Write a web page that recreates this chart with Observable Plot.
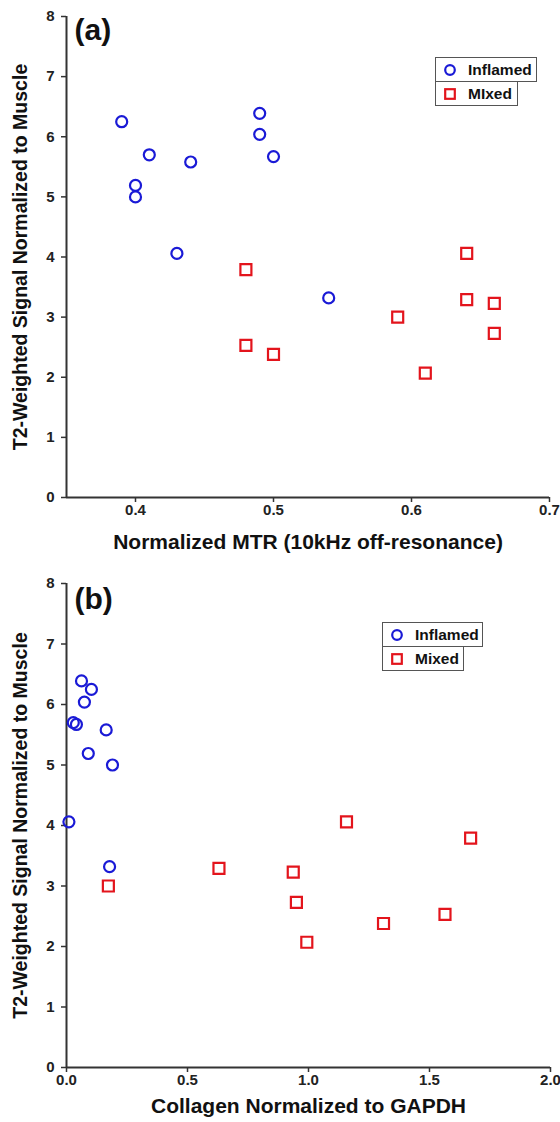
<!DOCTYPE html>
<html>
<head>
<meta charset="utf-8">
<script src="https://cdn.jsdelivr.net/npm/d3@7"></script>
<script src="https://cdn.jsdelivr.net/npm/@observablehq/plot@0.6"></script>
<style>
  body { margin: 0; background: #fff; font-family: "Liberation Sans", Arial, sans-serif; }
  #wrap { position: relative; width: 560px; height: 1122px; }
  .leg { position: absolute; box-sizing: border-box; border: 1px solid #555; background: #fff;
         font: bold 15.5px "Liberation Sans", Arial, sans-serif; color: #111; display: flex; align-items: center; }
  .leg svg { margin-left: 8px; margin-right: 12px; }
</style>
</head>
<body>
<div id="wrap"></div>
<script>
// Shared T2 values
const t2Inflamed = [6.25, 5.70, 5.19, 5.00, 5.58, 6.39, 6.04, 5.67, 4.06, 3.32];
const t2Mixed = [3.79, 2.53, 2.38, 3.00, 2.07, 3.29, 3.23, 2.73, 4.06];
// Panel (a): normalized MTR
const mtrInflamed = [0.39, 0.41, 0.40, 0.40, 0.44, 0.49, 0.49, 0.50, 0.43, 0.54];
const mtrMixed = [0.48, 0.48, 0.50, 0.59, 0.61, 0.64, 0.66, 0.66, 0.64];
// Panel (b): collagen normalized to GAPDH
const colInflamed = [0.103, 0.028, 0.09, 0.19, 0.164, 0.062, 0.074, 0.041, 0.01, 0.178];
const colMixed = [1.67, 1.564, 1.31, 0.173, 0.993, 0.63, 0.937, 0.95, 1.157];

const yTicks = [0, 1, 2, 3, 4, 5, 6, 7, 8];
const xTicksA = [0.4, 0.5, 0.6, 0.7];
const xTicksB = [0.0, 0.5, 1.0, 1.5, 2.0];

const BLUE = "#1a1ad6";
const RED = "#e3141c";
const AXIS = "#333";
const FONT = "Liberation Sans, Arial, sans-serif";

function panel(opts) {
  const inf = opts.xInf.map((x, i) => ({x, y: t2Inflamed[i]}));
  const mix = opts.xMix.map((x, i) => ({x, y: t2Mixed[i]}));
  return Plot.plot({
    width: 560,
    height: opts.height,
    marginTop: opts.mt,
    marginBottom: opts.mb,
    marginLeft: 66,
    marginRight: opts.mr,
    style: {fontFamily: FONT, background: "#fff", overflow: "visible"},
    x: {domain: opts.xDomain, ticks: opts.xTicks},
    y: {domain: [0, 8], ticks: yTicks},
    marks: [
      Plot.axisY({ticks: yTicks, tickSize: 5, tickPadding: 7, label: null, stroke: AXIS, strokeWidth: 1.5, fill: "#222"}),
      Plot.axisX({ticks: opts.xTicks, tickSize: 5, tickPadding: 2, label: null, stroke: AXIS, strokeWidth: 1.5, fill: "#222", tickFormat: opts.fmt}),
      Plot.ruleX([opts.xDomain[0]], {y1: 0, y2: 8, stroke: AXIS, strokeWidth: 2}),
      Plot.ruleY([0], {stroke: AXIS, strokeWidth: 2}),
      Plot.dot(inf, {x: "x", y: "y", r: 5.5, symbol: "circle", stroke: BLUE, strokeWidth: 2.2, fill: "none"}),
      Plot.dot(mix, {x: "x", y: "y", r: 6.2, symbol: "square", stroke: RED, strokeWidth: 2.2, fill: "none"}),
      Plot.text([opts.tag], {frameAnchor: "top-left", dx: 8, dy: opts.tagDy, fontSize: 30, fontWeight: "bold", fill: "#111", textAnchor: "start", lineAnchor: "top"}),
      Plot.text([opts.xTitle], {frameAnchor: "bottom", dy: opts.xTitleDy, fontSize: 21, fontWeight: "bold", fill: "#111", textAnchor: "middle"}),
      Plot.text(["T2-Weighted Signal Normalized to Muscle"], {frameAnchor: "left", dx: -46, rotate: -90, fontSize: 19.5, fontWeight: "bold", fill: "#111", textAnchor: "middle"})
    ]
  });
}

const wrap = document.getElementById("wrap");
const a = panel({height: 560, mt: 16, mb: 63, mr: 11, xDomain: [0.35, 0.7], xTicks: xTicksA,
  fmt: d3.format(".1f"), tag: "(a)", tagDy: 2, xTitle: "Normalized MTR (10kHz off-resonance)", xTitleDy: 51,
  xInf: mtrInflamed, xMix: mtrMixed});
const b = panel({height: 562, mt: 23, mb: 55, mr: 10, xDomain: [0, 2], xTicks: xTicksB,
  fmt: d3.format(".1f"), tag: "(b)", tagDy: 4, xTitle: "Collagen Normalized to GAPDH", xTitleDy: 45,
  xInf: colInflamed, xMix: colMixed});
a.style.display = "block"; b.style.display = "block";
wrap.appendChild(a); wrap.appendChild(b);

// Enlarge and embolden the tick labels
for (const svg of [a, b]) {
  svg.querySelectorAll("text").forEach(t => {
    if (/^\d+(\.\d)?$/.test(t.textContent.trim())) {
      t.style.fontSize = "15px";
      t.style.fontWeight = "bold";
      t.style.fontFamily = FONT;
    }
  });
}

function legendRow(left, top, width, label, kind) {
  const d = document.createElement("div");
  d.className = "leg";
  d.style.left = left + "px"; d.style.top = top + "px";
  d.style.width = width + "px"; d.style.height = "25px";
  const sym = kind === "circle"
    ? `<svg width="12" height="12"><circle cx="6" cy="6" r="4.8" fill="none" stroke="${BLUE}" stroke-width="2.2"/></svg>`
    : `<svg width="12" height="12"><rect x="1.2" y="1.2" width="9.6" height="9.6" fill="none" stroke="${RED}" stroke-width="2.2"/></svg>`;
  d.innerHTML = sym + `<span>${label}</span>`;
  wrap.appendChild(d);
}
legendRow(435, 57, 102, "Inflamed", "circle");
legendRow(435, 81, 83, "MIxed", "square");
legendRow(382, 622, 101, "Inflamed", "circle");
legendRow(382, 646, 82, "Mixed", "square");
</script>
</body>
</html>
